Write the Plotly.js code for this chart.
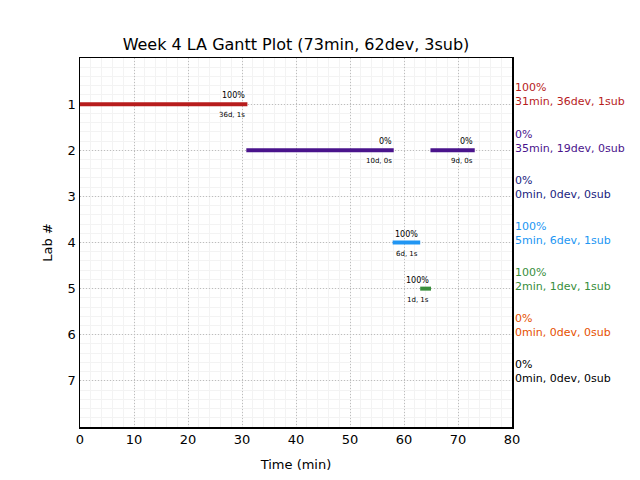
<!DOCTYPE html>
<html><head><meta charset="utf-8">
<script src="https://cdn.plot.ly/plotly-3.0.1.min.js"></script>
<style>html,body{margin:0;padding:0;background:#fff}</style>
</head><body>
<div id="chart" style="width:640px;height:480px"></div>
<script>
// Segments
const segLab   = [1, 2, 2, 4, 5];
const segStart = [0, 30.8, 64.9, 57.9, 63.0];
const segEnd   = [31.0, 58.1, 73.1, 63.0, 65.0];
const segPct   = ["100%", "0%", "0%", "100%", "100%"];
const segInfo  = ["36d, 1s", "10d, 0s", "9d, 0s", "6d, 1s", "1d, 1s"];
// Per-lab summary
const labs     = [1, 2, 3, 4, 5, 6, 7];
const labPct   = ["100%", "0%", "0%", "100%", "100%", "0%", "0%"];
const labMin   = [31, 35, 0, 5, 2, 0, 0];
const labDev   = [36, 19, 0, 6, 1, 0, 0];
const labSub   = [1, 0, 0, 1, 1, 0, 0];
const labColor = ["#b71c1c", "#4a148c", "#1a237e", "#2196f3", "#388e3c", "#e65100", "#000000"];
const tickVals = [1, 2, 3, 4, 5, 6, 7];
const xTicks   = [0, 10, 20, 30, 40, 50, 60, 70, 80];

const font = "DejaVu Sans, sans-serif";
const traces = segLab.map((lab, i) => ({
  type: "scatter", mode: "lines",
  x: [segStart[i], segEnd[i]], y: [lab, lab],
  line: {color: labColor[lab - 1], width: 4},
  showlegend: false, hoverinfo: "skip"
}));

const annotations = [];
segLab.forEach((lab, i) => {
  annotations.push({x: segEnd[i], y: lab, xref: "x", yref: "y", text: segPct[i],
    showarrow: false, xanchor: "right", yanchor: "bottom", yshift: 2,
    font: {family: font, size: 8, color: "#000"}});
  annotations.push({x: segEnd[i], y: lab, xref: "x", yref: "y", text: segInfo[i],
    showarrow: false, xanchor: "right", yanchor: "top", yshift: -5,
    font: {family: font, size: 7, color: "#000"}});
});
labs.forEach((lab, i) => {
  annotations.push({x: 1, y: lab - 0.2, xref: "paper", yref: "y", xshift: 1,
    text: labPct[i] + "<br>" + labMin[i] + "min, " + labDev[i] + "dev, " + labSub[i] + "sub",
    showarrow: false, xanchor: "left", yanchor: "middle", align: "left",
    font: {family: font, size: 11, color: labColor[i]}});
});

const layout = {
  width: 640, height: 480,
  margin: {l: 80, r: 128, t: 58, b: 53},
  paper_bgcolor: "#fff", plot_bgcolor: "#fff",
  font: {family: font, color: "#000"},
  title: {text: "Week 4 LA Gantt Plot (73min, 62dev, 3sub)", font: {family: font, size: 16, color: "#000"},
    x: 0.5, xref: "paper", xanchor: "center", y: 1, yref: "paper", yanchor: "bottom", pad: {b: 8}},
  xaxis: {range: [0, 80], tickvals: xTicks, ticks: "", showline: true, linecolor: "#000", linewidth: 1.5,
    mirror: true, showgrid: true, gridcolor: "#bdbdbd", griddash: "1px,2px", gridwidth: 1, zeroline: false,
    tickfont: {family: font, size: 13}, title: {text: "Time (min)", font: {family: font, size: 13}, standoff: 14},
    minor: {dtick: 2, showgrid: true, gridcolor: "#f3f3f3", griddash: "solid", gridwidth: 1, ticks: ""}},
  yaxis: {range: [8, 0], tickvals: tickVals, ticks: "", showline: true, linecolor: "#000", linewidth: 1.5,
    mirror: true, showgrid: true, gridcolor: "#bdbdbd", griddash: "1px,2px", gridwidth: 1, zeroline: false,
    tickfont: {family: font, size: 13}, title: {text: "Lab #", font: {family: font, size: 13}, standoff: 12},
    minor: {dtick: 0.2, showgrid: true, gridcolor: "#f3f3f3", griddash: "solid", gridwidth: 1, ticks: ""}},
  annotations: annotations
};
Plotly.newPlot("chart", traces, layout, {displayModeBar: false, staticPlot: true});
</script>
</body></html>
